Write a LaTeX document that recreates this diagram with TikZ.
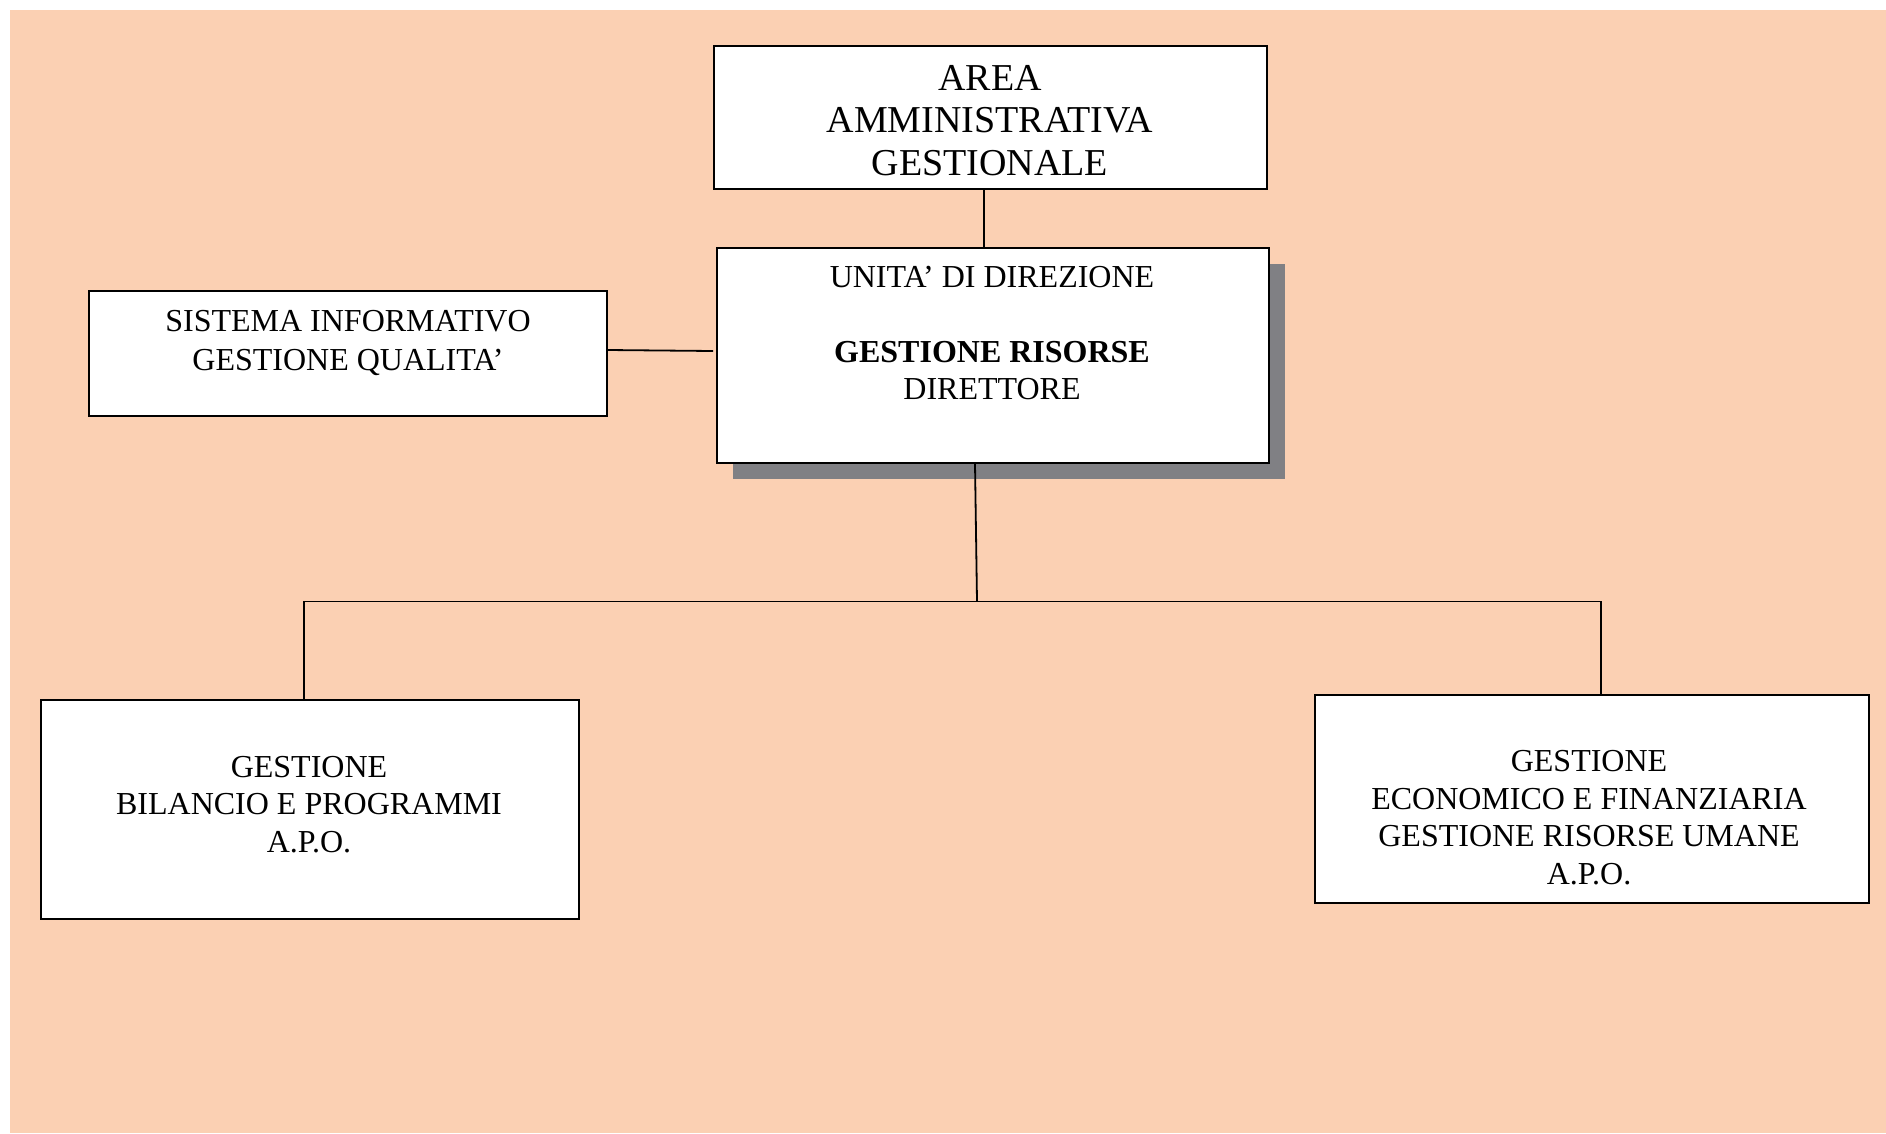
\documentclass[tikz,border=0pt]{standalone}
\usepackage{fontspec}
\setmainfont{Liberation Serif}
\usetikzlibrary{shadows}
\definecolor{peach}{RGB}{251,208,179}
\definecolor{shadowgray}{RGB}{128,128,132}
\tikzset{
  orgbox/.style={draw=black, line width=1.8pt, fill=white, rectangle, inner sep=0pt},
  boxtext/.style={align=center, inner sep=0pt, font=\fontsize{32}{37.5}\selectfont},
  conn/.style={draw=black, line width=1.8pt}
}
\begin{document}
\begin{tikzpicture}[x=1pt, y=-1pt]
\useasboundingbox (0,0) rectangle (1886,1133);
\fill[white] (0,0) rectangle (1886,1133);
\fill[peach] (9.6,9.6) rectangle (1886,1133);

% boxes
\node[orgbox, minimum width=553pt, minimum height=143pt] (top) at (990.5,117.5) {};
\node[orgbox, minimum width=552pt, minimum height=215pt,
      general shadow={fill=shadowgray, shadow xshift=16pt, shadow yshift=-16pt}] (main) at (993,355.5) {};
\node[orgbox, minimum width=518pt, minimum height=125pt] (sis) at (348,353.5) {};
\node[orgbox, minimum width=538pt, minimum height=219pt] (lb) at (310,809.5) {};
\node[orgbox, minimum width=554pt, minimum height=208pt] (rb) at (1592,799) {};

% texts
\node[boxtext, font=\fontsize{38}{42.5}\selectfont] (toptext) at (990,120.5)
  {AREA\\AMMINISTRATIVA\\GESTIONALE};
\node[boxtext] (maintext) at (992,333.5)
  {UNITA’ DI DIREZIONE\\[37pt]\textbf{GESTIONE RISORSE}\\DIRETTORE};
\node[boxtext, font=\fontsize{32}{38.5}\selectfont] (sistext) at (348,343)
  {SISTEMA INFORMATIVO\\GESTIONE QUALITA’};
\node[boxtext] (lbtext) at (309,804.5)
  {GESTIONE\\BILANCIO E PROGRAMMI\\A.P.O.};
\node[boxtext] (rbtext) at (1589,817.5)
  {GESTIONE\\ECONOMICO E FINANZIARIA\\GESTIONE RISORSE UMANE\\A.P.O.};

% connectors
\coordinate (junc) at (977,601.5);
\coordinate (hl) at (304,601.5);
\coordinate (hr) at (1601,601.5);
\draw[conn] ([xshift=-6.5pt]top.south) -- ([xshift=-9pt]main.north);
\draw[conn] ([yshift=3.5pt]sis.east) -- ([xshift=-3pt, yshift=4.5pt]main.west);
\draw[conn] ([xshift=-18pt]main.south) -- (junc);
\draw[conn] (lb.north -| hl) -- (hl) -- (hr) -- (rb.north -| hr);
\end{tikzpicture}
\end{document}
